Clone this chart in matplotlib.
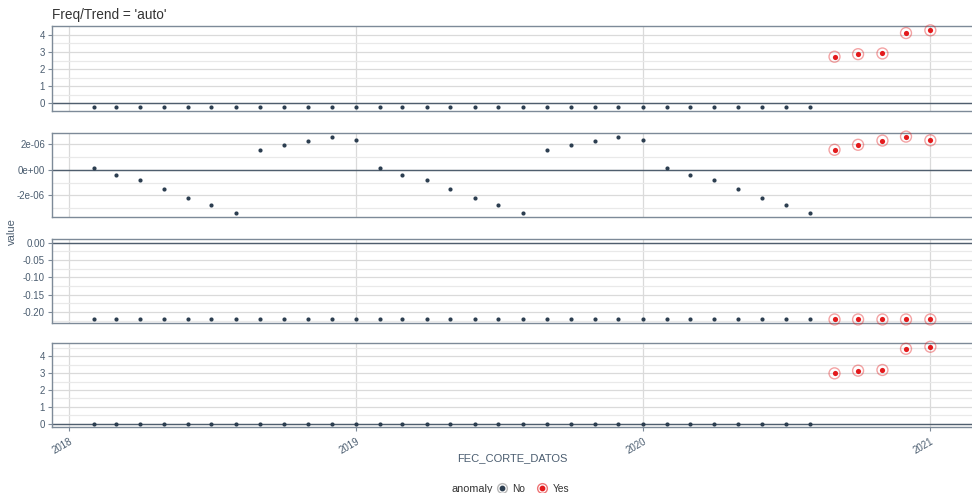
import numpy as np
import pandas as pd
import matplotlib
matplotlib.use("Agg")
import matplotlib.pyplot as plt
import matplotlib.dates as mdates
from matplotlib.ticker import FixedLocator, FuncFormatter
from matplotlib.lines import Line2D
from matplotlib.legend_handler import HandlerTuple

plt.rcParams['font.family'] = ['Liberation Sans', 'DejaVu Sans']

# monthly dates, Feb 2018 .. Jan 2021
dates = pd.date_range("2018-02-01", "2021-01-01", freq="MS")

observed = [-0.22] * 31 + [2.72, 2.87, 2.91, 4.10, 4.26]
season = [0.12, -0.39, -0.83, -1.51, -2.18, -2.75, -3.42, 1.56, 1.95, 2.28, 2.59, 2.30,
          0.12, -0.39, -0.83, -1.51, -2.18, -2.75, -3.42, 1.56, 1.95, 2.28, 2.59, 2.30,
          0.12, -0.39, -0.83, -1.51, -2.18, -2.75, -3.42, 1.56, 1.95, 2.28, 2.59, 2.30]
season = [v * 1e-6 for v in season]
trend = [-0.221] * 36
remainder = [0.0] * 31 + [2.99, 3.15, 3.19, 4.45, 4.57]
anomaly = ["No"] * 31 + ["Yes"] * 5

panels = [
    (observed, [0, 1, 2, 3, 4], [0.5, 1.5, 2.5, 3.5], lambda v, p: "%d" % round(v)),
    (season, [-2e-6, 0, 2e-6], [-3e-6, -1e-6, 1e-6], lambda v, p: "%.0e" % v),
    (trend, [-0.20, -0.15, -0.10, -0.05, 0.0], [-0.225, -0.175, -0.125, -0.075, -0.025],
     lambda v, p: "%.2f" % v),
    (remainder, [0, 1, 2, 3, 4], [0.5, 1.5, 2.5, 3.5, 4.5], lambda v, p: "%d" % round(v)),
]

DARK = "#2c3e50"
RED = "#e31a1c"
BORDER = "#7d8a98"
TXT = "#4b5d70"

fig = plt.figure(figsize=(9.72, 4.93), dpi=100)
bottoms = [0.7748, 0.5592, 0.3442, 0.1329]
is_anom = np.array(anomaly) == "Yes"
d = np.array(dates.to_pydatetime())

xmin = mdates.date2num(dates[0]) - 53
xmax = mdates.date2num(dates[-1]) + 53

for i, (vals, major, minor, fmt) in enumerate(panels):
    ax = fig.add_axes([0.0535, bottoms[i], 0.9465, 0.1715])
    v = np.array(vals)
    lo = min(v.min(), 0)
    hi = max(v.max(), 0)
    pad = (hi - lo) * 0.05
    ax.set_ylim(lo - pad, hi + pad)
    ax.set_xlim(xmin, xmax)

    ax.yaxis.set_major_locator(FixedLocator(major))
    ax.yaxis.set_minor_locator(FixedLocator(minor))
    ax.yaxis.set_major_formatter(FuncFormatter(fmt))
    ax.xaxis.set_major_locator(mdates.YearLocator())
    ax.xaxis.set_major_formatter(mdates.DateFormatter("%Y"))

    ax.grid(True, which="major", color="#dadada", lw=0.9)
    ax.grid(True, which="minor", axis="y", color="#e9e9e9", lw=0.9)
    ax.set_axisbelow(True)
    ax.axhline(0, color="#4f5e6e", lw=1.0, zorder=1)

    ax.scatter(d[~is_anom], v[~is_anom], s=9, color=DARK, zorder=3, lw=0)
    ax.scatter(d[is_anom], v[is_anom], s=62, facecolors="none", edgecolors=RED,
               alpha=0.4, lw=1.0, zorder=3, clip_on=False)
    ax.scatter(d[is_anom], v[is_anom], s=14, color=RED, zorder=4, lw=0, clip_on=False)

    for s in ["top", "bottom", "left"]:
        ax.spines[s].set_color(BORDER)
        ax.spines[s].set_linewidth(1.0)
    ax.spines["right"].set_visible(False)
    ax.tick_params(axis="y", which="major", length=3, color=BORDER, labelsize=7,
                   labelcolor=TXT, pad=2)
    ax.tick_params(axis="y", which="minor", length=0)
    if i < 3:
        ax.tick_params(axis="x", length=0, labelbottom=False)
    else:
        ax.tick_params(axis="x", length=3, color=BORDER, labelsize=7, labelcolor=TXT)
        for lab in ax.get_xticklabels():
            lab.set_rotation(30)
            lab.set_ha("right")
            lab.set_rotation_mode("anchor")

fig.text(0.0535, 1 - 15 / 493, "Freq/Trend = 'auto'", fontsize=9.8, color="#333333",
         va="center", ha="left")
fig.text(0.012, 0.53, "value", rotation=90, fontsize=8, color=TXT, va="center", ha="center")
fig.text(512 / 972, 1 - 458 / 493, "FEC_CORTE_DATOS", fontsize=8, color=TXT,
         va="center", ha="center")

# legend
fig.text(472 / 972, 1 - 489 / 493, "anomaly", fontsize=7.8, color="#333333",
         va="center", ha="center")
h_no = (Line2D([], [], ls="none", marker="o", ms=7, mfc="none", mec="#888888", alpha=0.6),
        Line2D([], [], ls="none", marker="o", ms=3.2, color=DARK))
h_yes = (Line2D([], [], ls="none", marker="o", ms=7, mfc="none", mec=RED, alpha=0.6),
         Line2D([], [], ls="none", marker="o", ms=3.2, color=RED))
fig.legend([h_no, h_yes], ["No", "Yes"], handler_map={tuple: HandlerTuple(ndivide=1)},
           loc="center left", bbox_to_anchor=(497 / 972, 1 - 489 / 493), ncol=2,
           frameon=False, fontsize=7.3, handlelength=1.0, handletextpad=0.5,
           columnspacing=1.2, borderaxespad=0, borderpad=0, labelcolor="#333333")

fig.savefig("out.png", dpi=100)
